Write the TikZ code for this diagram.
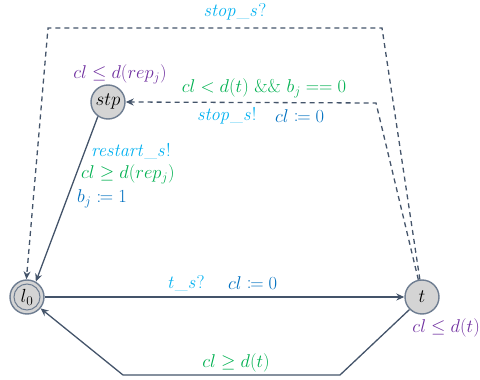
\RequirePackage{fix-cm}
\documentclass[tikz,border=0pt]{standalone}
\usepackage{mathtools}
\usetikzlibrary{arrows.meta}
\definecolor{edgec}{RGB}{68,84,106}
\definecolor{nodeb}{RGB}{110,125,145}
\definecolor{nodef}{RGB}{212,212,212}
\definecolor{cyanc}{RGB}{0,176,240}
\definecolor{bluec}{RGB}{0,112,192}
\definecolor{greenc}{RGB}{0,176,80}
\definecolor{purplec}{RGB}{112,48,160}
\tikzset{
  loc/.style={circle,draw=nodeb,fill=nodef,line width=1.4pt,minimum size=34pt,inner sep=0pt,font=\fontsize{19}{21}\selectfont},
  edg/.style={draw=edgec,line width=1.3pt,-{Stealth[length=8pt,width=7pt]}},
  dedg/.style={edg,dash pattern=on 5pt off 4pt},
  lab/.style={font=\fontsize{18.5}{20}\selectfont,inner sep=0pt},
}
\begin{document}
\begin{tikzpicture}[x=1pt,y=-1pt]
\useasboundingbox (0,0) rectangle (480,380);
% locations
\node[loc] (stp) at (108,102) {$stp$};
\node[loc] (l0) at (27,297) {$l_0$};
\draw[nodeb,line width=1pt] (l0) circle (13pt);
\node[loc] (t) at (422,297) {$t$};
% corner coordinates
\coordinate (o1) at (382,28);
\coordinate (o2) at (48,28);
\coordinate (i1) at (376,103);
\coordinate (b1) at (340,375);
\coordinate (b2) at (123,375);
% edges
\draw[dedg] (t.97) -- (o1) -- (o2) -- (l0.92);
\draw[dedg] (t.102) -- (i1) -- (stp.east);
\draw[edg] (stp.235) -- (l0.60);
\draw[edg] (l0.east) -- (t.west);
\draw[edg] (t.225) -- (b1) -- (b2) -- (l0.-40);
% labels
\node[lab,text=cyanc] (s1) at (235,12) {$\mathit{stop\_s?}$};
\node[lab,text=purplec] (i0) at (120,74) {$cl \le d(rep_j)$};
\node[lab,text=greenc] (g1) at (264,88) {$cl < d(t)\ \&\&\ b_j == 0$};
\node[lab,text=cyanc,anchor=west] (s2) at (197,116) {$\mathit{stop\_s!}$};
\node[lab,text=bluec,anchor=west] (a1) at (275,116) {$cl \coloneqq 0$};
\node[lab,text=cyanc,anchor=west] (r1) at (91,151) {$\mathit{restart\_s!}$};
\node[lab,text=greenc,anchor=west] (g2) at (81,174) {$cl \ge d(rep_j)$};
\node[lab,text=bluec,anchor=west] (a2) at (77,199) {$b_j \coloneqq 1$};
\node[lab,text=cyanc,anchor=west] (s3) at (167,283) {$\mathit{t\_s?}$};
\node[lab,text=bluec,anchor=west] (a3) at (228,283) {$cl \coloneqq 0$};
\node[lab,text=purplec,anchor=east] (i2) at (480,328) {$cl \le d(t)$};
\node[lab,text=greenc] (g3) at (236,363) {$cl \ge d(t)$};
\end{tikzpicture}
\end{document}
